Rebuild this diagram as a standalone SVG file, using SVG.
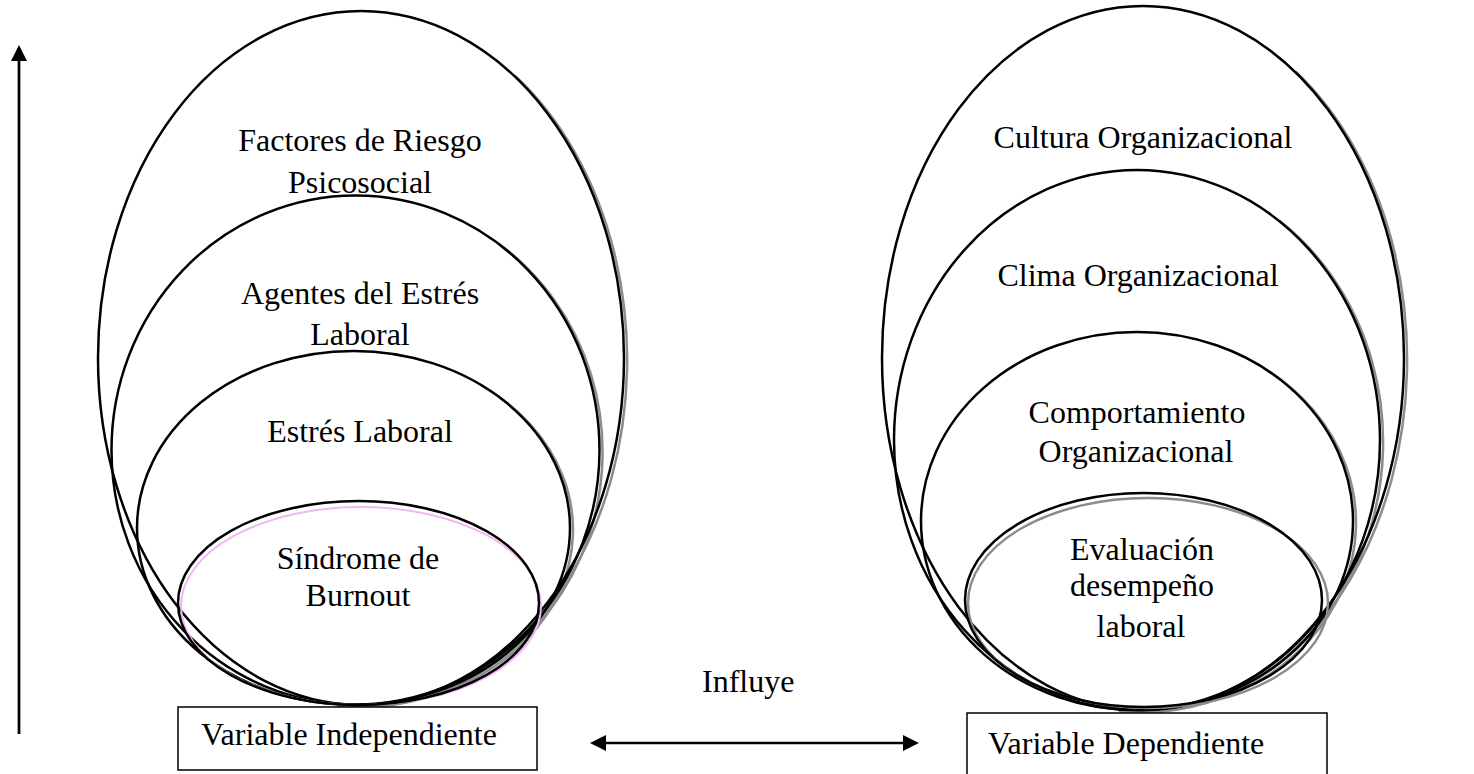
<svg xmlns="http://www.w3.org/2000/svg" width="1474" height="774" viewBox="0 0 1474 774">
<style>
.el{fill:none;stroke:#000;stroke-width:2.5}
.sh{fill:none;stroke:#8c8c8c;stroke-width:2.5}
.bx{fill:#fff;stroke:#000;stroke-width:1.5}
.t{font-family:"Liberation Serif","Times New Roman",serif;font-size:32px;fill:#000;text-anchor:middle}
.ts{font-family:"Liberation Serif","Times New Roman",serif;font-size:32px;fill:#000}
.ar{stroke:#000;stroke-width:2.7;fill:none}
</style>
<defs>
<marker id="ah" viewBox="0 0 16 16" refX="2" refY="8" markerWidth="16" markerHeight="16" markerUnits="userSpaceOnUse" orient="auto-start-reverse">
<path d="M0,0 L16,8 L0,16 Z" fill="#000"/>
</marker>
</defs>
<rect width="1474" height="774" fill="#fff"/>

<g id="shadows">
<path class="sh" d="M514.9,75.7 A263 347 0 0 1 341.1,705.7"/>
<path class="sh" d="M498.5,243.5 A244 254.5 0 0 1 337.2,705.5"/>
<path class="sh" d="M480.7,385 A216.5 177 0 0 1 337.6,706.3"/>
<path class="sh" d="M1295.7,71.6 A261 352 0 0 1 1123.2,710.7"/>
<path class="sh" d="M1279.4,220.8 A243 270 0 0 1 1118.8,711"/>
<path class="sh" d="M1263.9,368.2 A216 189 0 0 1 1121.2,711.3"/>
</g>

<g id="factores">
<ellipse class="el" cx="361" cy="358" rx="263" ry="347"/>
<text class="t" x="360" y="151">Factores de Riesgo</text>
<text class="t" x="360" y="193">Psicosocial</text>
</g>
<g id="agentes">
<ellipse class="el" cx="355.5" cy="450" rx="244" ry="254.5"/>
<text class="t" x="360" y="304">Agentes del Estrés</text>
<text class="t" x="360" y="345">Laboral</text>
</g>
<g id="estres">
<ellipse class="el" cx="353.5" cy="528" rx="216.5" ry="177"/>
<text class="t" x="360" y="442">Estrés Laboral</text>
</g>
<g id="burnout">
<ellipse cx="361" cy="606" rx="180" ry="99" fill="none" stroke="#f2b8f2" stroke-width="2"/>
<ellipse class="el" cx="358.5" cy="603" rx="180.5" ry="102"/>
<text class="t" x="358" y="569">Síndrome de</text>
<text class="t" x="358" y="606">Burnout</text>
</g>

<g id="cultura">
<ellipse class="el" cx="1143" cy="358" rx="261" ry="352"/>
<text class="t" x="1143" y="148">Cultura Organizacional</text>
</g>
<g id="clima">
<ellipse class="el" cx="1137" cy="440" rx="243" ry="270"/>
<text class="t" x="1138" y="286">Clima Organizacional</text>
</g>
<g id="comportamiento">
<ellipse class="el" cx="1137" cy="521" rx="216" ry="189"/>
<text class="t" x="1137" y="423">Comportamiento</text>
<text class="t" x="1136" y="462">Organizacional</text>
</g>
<g id="evaluacion">
<ellipse cx="1148" cy="603" rx="180" ry="105" fill="none" stroke="#8c8c8c" stroke-width="2.5"/>
<ellipse class="el" cx="1143.5" cy="600" rx="178.5" ry="107"/>
<text class="t" x="1142" y="560">Evaluación</text>
<text class="t" x="1142" y="596">desempeño</text>
<text class="t" x="1141" y="637">laboral</text>
</g>

<g id="var-independiente">
<rect class="bx" x="178" y="707" width="359" height="63"/>
<text class="ts" x="201" y="745">Variable Independiente</text>
</g>
<g id="var-dependiente">
<rect class="bx" x="967" y="713" width="360" height="72"/>
<text class="ts" x="988" y="754">Variable Dependiente</text>
</g>

<g id="influye">
<text class="ts" x="702" y="692">Influye</text>
</g>

<g id="connectors">
<line class="ar" x1="19" y1="734" x2="19" y2="59" marker-end="url(#ah)"/>
<line class="ar" x1="604" y1="743" x2="905" y2="743" marker-start="url(#ah)" marker-end="url(#ah)"/>
</g>
</svg>
